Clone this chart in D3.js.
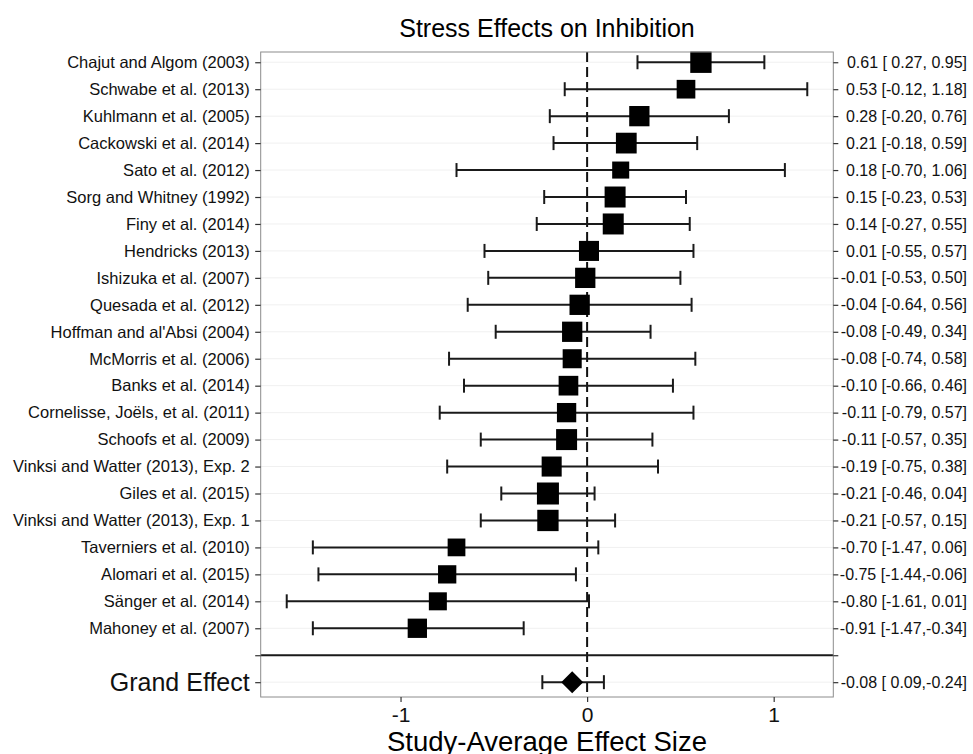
<!DOCTYPE html>
<html>
<head>
<meta charset="utf-8">
<script src="https://cdn.jsdelivr.net/npm/d3@7"></script>
<style>
body { margin: 0; background: #fff; }
svg { font-family: "Liberation Sans", Arial, Helvetica, sans-serif; }
text { white-space: pre; }
</style>
</head>
<body>
<svg width="973" height="754"></svg>
<script>
var studies = ["Chajut and Algom (2003)", "Schwabe et al. (2013)", "Kuhlmann et al. (2005)",
  "Cackowski et al. (2014)", "Sato et al. (2012)", "Sorg and Whitney (1992)", "Finy et al. (2014)",
  "Hendricks (2013)", "Ishizuka et al. (2007)", "Quesada et al. (2012)", "Hoffman and al'Absi (2004)",
  "McMorris et al. (2006)", "Banks et al. (2014)", "Cornelisse, Joëls, et al. (2011)",
  "Schoofs et al. (2009)", "Vinksi and Watter (2013), Exp. 2", "Giles et al. (2015)",
  "Vinksi and Watter (2013), Exp. 1", "Taverniers et al. (2010)", "Alomari et al. (2015)",
  "Sänger et al. (2014)", "Mahoney et al. (2007)"];

var estimates = [0.61, 0.53, 0.28, 0.21, 0.18, 0.15, 0.14, 0.01, -0.01, -0.04, -0.08,
  -0.08, -0.10, -0.11, -0.11, -0.19, -0.21, -0.21, -0.70, -0.75, -0.80, -0.91];
var lower = [0.27, -0.12, -0.20, -0.18, -0.70, -0.23, -0.27, -0.55, -0.53, -0.64, -0.49,
  -0.74, -0.66, -0.79, -0.57, -0.75, -0.46, -0.57, -1.47, -1.44, -1.61, -1.47];
var upper = [0.95, 1.18, 0.76, 0.59, 1.06, 0.53, 0.55, 0.57, 0.50, 0.56, 0.34,
  0.58, 0.46, 0.57, 0.35, 0.38, 0.04, 0.15, 0.06, -0.06, 0.01, -0.34];
// relative study weights (square area)
var weights = [0.94, 0.72, 0.85, 0.89, 0.60, 0.91, 0.91, 0.83, 0.85, 0.85, 0.85,
  0.75, 0.80, 0.77, 0.91, 0.83, 1.00, 0.94, 0.65, 0.69, 0.67, 0.77];

var grandLabel = "Grand Effect";
var grandEstimate = -0.08;
var grandCI = [0.09, -0.24];   // printed in this order on the chart

var xTicks = [-1, 0, 1];

var svg = d3.select("svg");
var pLeft = 260.7, pRight = 833.3, pTop = 52, pBottom = 697;

var lo = d3.min(lower), hi = d3.max(upper), pad = (hi - lo) * 0.05;
var x = d3.scaleLinear().domain([lo - pad, hi + pad]).range([pLeft, pRight]);
var y = d3.scaleLinear().domain([-0.38, 23.55]).range([pTop, pBottom]);
var size = d3.scaleSqrt().domain([0, 1]).range([0, 22]);

var rowLabels = studies.concat(["", grandLabel]);
var rows = d3.range(rowLabels.length);
var sepRow = studies.length, grandRow = studies.length + 1;

function f2(v) { return v.toFixed(2); }
function p5(v) { var s = v.toFixed(2); return s.length < 5 ? " " + s : s; }

var rightLabels = studies.map(function(d, i) {
  return f2(estimates[i]) + " [" + p5(lower[i]) + "," + p5(upper[i]) + "]";
});
rightLabels.push("");
rightLabels.push(f2(grandEstimate) + " [" + p5(grandCI[0]) + "," + p5(grandCI[1]) + "]");

// grid lines
svg.append("g").selectAll("line")
    .data(rows)
  .enter().append("line")
    .attr("x1", pLeft).attr("x2", pRight)
    .attr("y1", function(d) { return y(d); })
    .attr("y2", function(d) { return y(d); })
    .style("stroke", "#f0f0f0")
    .style("stroke-width", 1);

// reference line at zero
svg.append("line")
    .attr("x1", x(0)).attr("x2", x(0))
    .attr("y1", pTop).attr("y2", pBottom)
    .style("stroke", "#111")
    .style("stroke-width", 2)
    .style("stroke-dasharray", "10,5");

// separator
svg.append("line")
    .attr("x1", pLeft).attr("x2", pRight)
    .attr("y1", y(sepRow)).attr("y2", y(sepRow))
    .style("stroke", "#1a1a1a")
    .style("stroke-width", 2);

// error bars
var bars = studies.map(function(d, i) { return {row: i, lo: lower[i], hi: upper[i]}; });
bars.push({row: grandRow, lo: d3.min(grandCI), hi: d3.max(grandCI)});

var eb = svg.append("g").selectAll("g")
    .data(bars)
  .enter().append("g")
    .style("stroke", "#1a1a1a")
    .style("stroke-width", 2);

eb.append("line")
    .attr("x1", function(d) { return x(d.lo); })
    .attr("x2", function(d) { return x(d.hi); })
    .attr("y1", function(d) { return y(d.row); })
    .attr("y2", function(d) { return y(d.row); });

eb.selectAll(".cap")
    .data(function(d) { return [{v: d.lo, row: d.row}, {v: d.hi, row: d.row}]; })
  .enter().append("line")
    .attr("class", "cap")
    .attr("x1", function(d) { return x(d.v); })
    .attr("x2", function(d) { return x(d.v); })
    .attr("y1", function(d) { return y(d.row) - 7; })
    .attr("y2", function(d) { return y(d.row) + 7; });

// study squares
svg.append("g").selectAll("rect")
    .data(estimates)
  .enter().append("rect")
    .attr("x", function(d, i) { return x(d) - size(weights[i]) / 2; })
    .attr("y", function(d, i) { return y(i) - size(weights[i]) / 2; })
    .attr("width", function(d, i) { return size(weights[i]); })
    .attr("height", function(d, i) { return size(weights[i]); })
    .style("fill", "#000");

// grand effect diamond
var gx = x(grandEstimate), gy = y(grandRow), h = 11;
svg.append("path")
    .attr("d", "M" + (gx - h) + "," + gy + "L" + gx + "," + (gy - h) +
               "L" + (gx + h) + "," + gy + "L" + gx + "," + (gy + h) + "Z")
    .style("fill", "#000");

// panel border
svg.append("rect")
    .attr("x", pLeft).attr("y", pTop)
    .attr("width", pRight - pLeft).attr("height", pBottom - pTop)
    .style("fill", "none")
    .style("stroke", "#8c8c8c")
    .style("stroke-width", 1);

// axes
function styleAxis(g) {
  g.select(".domain").remove();
  g.selectAll(".tick line").style("stroke", "#333").style("stroke-width", 1.2);
  g.selectAll(".tick text").style("fill", "#111");
}

var yLeft = svg.append("g")
    .attr("transform", "translate(" + pLeft + ",0)")
    .call(d3.axisLeft(y).tickValues(rows).tickSize(5.5).tickPadding(5.5)
      .tickFormat(function(d) { return rowLabels[d]; }))
    .call(styleAxis);
yLeft.selectAll(".tick text")
    .style("font-size", function(d) { return d === grandRow ? "25px" : "16.5px"; });

var yRight = svg.append("g")
    .attr("transform", "translate(" + pRight + ",0)")
    .call(d3.axisRight(y).tickValues(rows).tickSize(5)
      .tickFormat(function(d) { return rightLabels[d]; }))
    .call(styleAxis);
yRight.selectAll(".tick text")
    .attr("x", 967 - pRight)
    .attr("text-anchor", "end")
    .style("font-size", "16px");

var xAxis = svg.append("g")
    .attr("transform", "translate(0," + pBottom + ")")
    .call(d3.axisBottom(x).tickValues(xTicks).tickSize(5).tickPadding(5)
      .tickFormat(function(d) { return String(d); }))
    .call(styleAxis);
xAxis.selectAll(".tick text").style("font-size", "21px");

// titles
svg.append("text")
    .attr("x", (pLeft + pRight) / 2)
    .attr("y", 37)
    .attr("text-anchor", "middle")
    .style("font-size", "25px")
    .text("Stress Effects on Inhibition");

svg.append("text")
    .attr("x", (pLeft + pRight) / 2)
    .attr("y", 751)
    .attr("text-anchor", "middle")
    .style("font-size", "27.5px")
    .text("Study-Average Effect Size");
</script>
</body>
</html>
